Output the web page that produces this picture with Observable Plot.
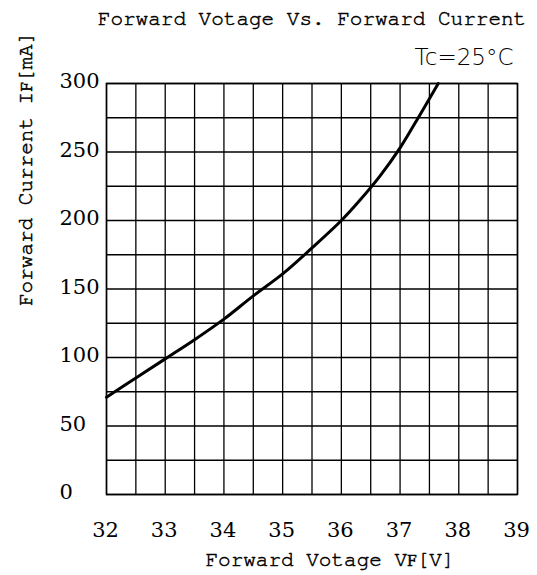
<!DOCTYPE html>
<html>
<head>
<meta charset="utf-8">
<script src="https://cdn.jsdelivr.net/npm/d3@7"></script>
<script src="https://cdn.jsdelivr.net/npm/@observablehq/plot@0.6"></script>
<style>
  body { margin: 0; background: white; }
</style>
</head>
<body>
<div id="chart"></div>
<script>
// Data
const voltage = [32.0, 32.5, 33.0, 33.5, 34.0, 34.5, 35.0, 35.5, 36.0, 36.3, 36.65, 37.0, 37.35, 37.65];
const current = [71, 85, 99, 113, 128, 145, 161, 180, 200, 214, 232, 253, 278, 300];

const xTicks = [32, 33, 34, 35, 36, 37, 38, 39];
const yTicks = [0, 50, 100, 150, 200, 250, 300];
const xGridTicks = [32, 32.5, 33, 33.5, 34, 34.5, 35, 35.5, 36, 36.5, 37, 37.5, 38, 38.5, 39];
const yGridTicks = [0, 25, 50, 75, 100, 125, 150, 175, 200, 225, 250, 275, 300];

const titleText = "Forward Votage Vs. Forward Current";
const condText = "Tc=25°C";
const xLabel = "Forward Votage VF[V]";
const yLabel = "Forward Current IF[mA]";

const data = voltage.map((v, i) => ({v, i: current[i]}));

const mono = "'FreeMono', 'Courier New', monospace";
const serif = "'DejaVu Serif', serif";

const chart = Plot.plot({
  width: 537,
  height: 575,
  marginLeft: 106,
  marginRight: 20,
  marginTop: 83,
  marginBottom: 81,
  style: {background: "white", color: "black", fontFamily: serif},
  x: {domain: [32, 39], axis: null},
  y: {domain: [0, 300], axis: null},
  marks: [
    Plot.gridX(xGridTicks, {stroke: "black", strokeOpacity: 1, strokeWidth: 1.3}),
    Plot.gridY(yGridTicks, {stroke: "black", strokeOpacity: 1, strokeWidth: 1.3}),
    Plot.frame({stroke: "black", strokeWidth: 1.5}),
    Plot.line(data, {x: "v", y: "i", stroke: "black", strokeWidth: 3, curve: "catmull-rom"}),
    Plot.text(xTicks, {x: d => d, text: d => String(d), frameAnchor: "bottom", dx: -1, dy: 36, lineAnchor: "middle", fontSize: 21, fontFamily: serif}),
    Plot.text(yTicks, {y: d => d, text: d => String(d), frameAnchor: "left", dx: -47, dy: -2, textAnchor: "start", lineAnchor: "middle", fontSize: 21, fontFamily: serif}),
    Plot.text([titleText], {frameAnchor: "top", dy: -65, lineAnchor: "middle", fontSize: 21, fontFamily: mono, stroke: "black", strokeWidth: 0.5, fill: "black"}),
    Plot.text([condText], {frameAnchor: "top-right", textAnchor: "end", dx: -4, dy: -26, lineAnchor: "middle", fontSize: 23, fontFamily: "'DejaVu Sans', sans-serif", fontWeight: 200, letterSpacing: 1}),
    Plot.text([xLabel], {frameAnchor: "bottom", dx: 18, dy: 65, lineAnchor: "middle", fontSize: 21, fontFamily: mono, stroke: "black", strokeWidth: 0.5, fill: "black"}),
    Plot.text([yLabel], {frameAnchor: "left", dx: -81, dy: 17, rotate: -90, lineAnchor: "middle", fontSize: 21, fontFamily: mono, stroke: "black", strokeWidth: 0.5, fill: "black"})
  ]
});

document.getElementById("chart").appendChild(chart);

// Render the "F" of VF / IF as a small letter on the baseline
d3.select(chart).selectAll("text").each(function() {
  const t = this.textContent;
  if (t === xLabel || t === yLabel) {
    const sel = d3.select(this);
    const pre = t === xLabel ? "Forward Votage V" : "Forward Current I";
    const post = t === xLabel ? "[V]" : "[mA]";
    sel.text(null);
    sel.append("tspan").text(pre);
    sel.append("tspan").attr("font-size", 14).attr("font-family", "'DejaVu Serif', serif").text("F");
    sel.append("tspan").text(post);
  }
});
</script>
</body>
</html>
